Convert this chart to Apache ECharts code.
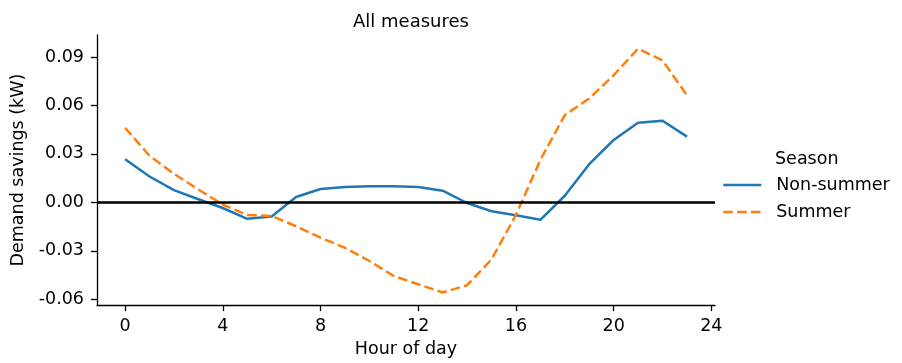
<!DOCTYPE html>
<html>
<head>
<meta charset="utf-8">
<script src="https://cdn.jsdelivr.net/npm/echarts@6/dist/echarts.min.js"></script>
<style>html,body{margin:0;padding:0;background:#fff}#c{width:902px;height:363px}</style>
</head>
<body>
<div id="c"></div>
<script>
const hours = [0,1,2,3,4,5,6,7,8,9,10,11,12,13,14,15,16,17,18,19,20,21,22,23];
const nonSummer = [0.0267,0.0160,0.0076,0.0019,-0.0035,-0.0102,-0.0088,0.0033,0.0083,0.0095,0.0099,0.0100,0.0095,0.0072,-0.0004,-0.0055,-0.0080,-0.0108,0.0041,0.0236,0.0386,0.0493,0.0505,0.0407];
const summer = [0.0462,0.0288,0.0177,0.0080,-0.0014,-0.0078,-0.0084,-0.0148,-0.0219,-0.0281,-0.0363,-0.0456,-0.0507,-0.0558,-0.0513,-0.0353,-0.0078,0.0263,0.0540,0.0643,0.0787,0.0951,0.0879,0.0663];
const xTicks = [0,4,8,12,16,20,24];
const yTicks = [-0.06,-0.03,0.00,0.03,0.06,0.09];
const seriesNames = ['Non-summer','Summer'];

const font = 'DejaVu Sans';
const fs = 17.5;
const chart = echarts.init(document.getElementById('c'));
chart.setOption({
  animation: false,
  textStyle: {fontFamily: font},
  title: {text: 'All measures', left: 406, textAlign: 'center', top: 8,
    textStyle: {fontFamily: font, fontSize: 18, fontWeight: 'normal', color: '#000'}},
  grid: {left: 97, right: 187, top: 35, bottom: 57, containLabel: false},
  legend: {
    orient: 'vertical', left: 722, top: 176, padding: 0, itemWidth: 38, itemHeight: 18, itemGap: 9,
    itemStyle: {color: 'rgba(0,0,0,0)', borderWidth: 0, opacity: 0},
    lineStyle: {width: 2.5},
    textStyle: {fontFamily: font, fontSize: fs, color: '#000', padding: [0, 0, 0, 10]},
    data: seriesNames
  },
  graphic: [{type: 'text', left: 775, top: 150, style: {text: 'Season', fontFamily: font, fontSize: fs, fill: '#000'}}],
  xAxis: {
    type: 'value', min: -1.15, max: 24.15,
    name: 'Hour of day', nameLocation: 'middle', nameGap: 34,
    nameTextStyle: {fontFamily: font, fontSize: fs, color: '#000'},
    splitLine: {show: false},
    axisLine: {onZero: false, lineStyle: {color: '#000', width: 1.3}},
    axisTick: {show: true, customValues: xTicks, length: 6, lineStyle: {color: '#000', width: 1.3}},
    axisLabel: {customValues: xTicks, margin: 12, fontFamily: font, fontSize: fs, color: '#000'}
  },
  yAxis: {
    type: 'value', min: -0.0636, max: 0.1036,
    name: 'Demand savings (kW)', nameLocation: 'middle', nameGap: 69,
    nameTextStyle: {fontFamily: font, fontSize: fs, color: '#000'},
    splitLine: {show: false},
    axisLine: {show: true, onZero: false, lineStyle: {color: '#000', width: 1.3}},
    axisTick: {show: true, customValues: yTicks, length: 6, lineStyle: {color: '#000', width: 1.3}},
    axisLabel: {customValues: yTicks, margin: 13, fontFamily: font, fontSize: fs, color: '#000',
      formatter: v => v.toFixed(2)}
  },
  series: [
    {name: seriesNames[0], type: 'line', data: hours.map((h,i)=>[h, nonSummer[i]]),
      showSymbol: false, symbol: 'none', color: '#1f77b4',
      lineStyle: {width: 2.5, color: '#1f77b4'},
      markLine: {silent: true, symbol: 'none', label: {show: false},
        lineStyle: {color: '#000', width: 2.6, type: 'solid'}, data: [{yAxis: 0}]},
      z: 3},
    {name: seriesNames[1], type: 'line', data: hours.map((h,i)=>[h, summer[i]]),
      showSymbol: false, symbol: 'none', color: '#ff7f0e',
      lineStyle: {width: 2.5, color: '#ff7f0e', type: [9.6, 4.2]}, z: 3}
  ]
});
</script>
</body>
</html>
